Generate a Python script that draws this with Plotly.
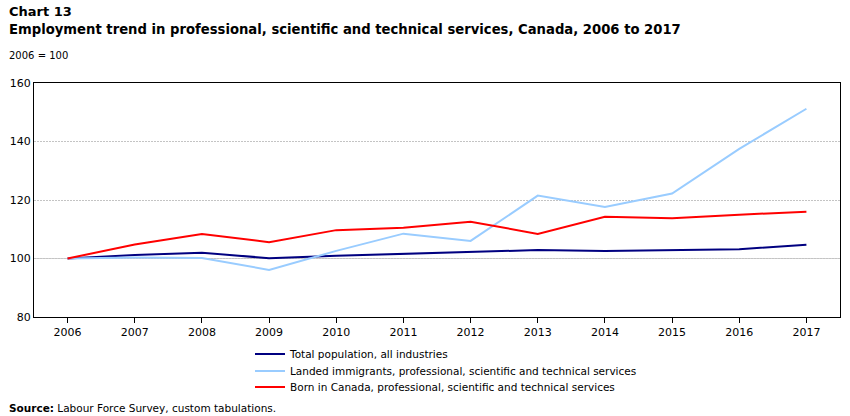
import plotly.graph_objects as go

years = [2006, 2007, 2008, 2009, 2010, 2011, 2012, 2013, 2014, 2015, 2016, 2017]
total_pop = [100.0, 101.2, 102.0, 100.1, 100.9, 101.5, 102.2, 102.9, 102.6, 102.9, 103.2, 104.7]
immigrants = [100.0, 100.3, 100.2, 96.1, 102.6, 108.5, 106.0, 121.5, 117.6, 122.2, 137.5, 151.2]
born_canada = [100.0, 104.8, 108.4, 105.6, 109.7, 110.5, 112.6, 108.4, 114.3, 113.8, 115.0, 116.0]
base_index = 100

names = [
    "Total population, all industries",
    "Landed immigrants, professional, scientific and technical services",
    "Born in Canada, professional, scientific and technical services",
]
colors = ["#000080", "#99CCFF", "#FF0000"]
series = [total_pop, immigrants, born_canada]

FONT = "DejaVu Sans"
W, H = 850, 416
L, R, T, B = 34, 10, 83, 99

legend_ids = ["legend", "legend2", "legend3"]
legend_y = [354, 371, 387]

fig = go.Figure()
for n, c, s, lg in zip(names, colors, series, legend_ids):
    fig.add_trace(go.Scatter(x=years, y=s, name=n, mode="lines", legend=lg,
                             line=dict(color=c, width=2), hoverinfo="x+y+name"))

def legend_cfg(ycenter):
    return dict(xref="container", yref="container", x=250 / W, y=1 - ycenter / H,
                xanchor="left", yanchor="middle",
                font=dict(family=FONT, size=10.5, color="black"),
                bgcolor="rgba(0,0,0,0)")

fig.update_layout(
    width=W, height=H,
    margin=dict(l=L, r=R, t=T, b=B, autoexpand=False),
    paper_bgcolor="white", plot_bgcolor="white",
    font=dict(family=FONT, size=11, color="black"),
    showlegend=True,
    legend=legend_cfg(legend_y[0]),
    legend2=legend_cfg(legend_y[1]),
    legend3=legend_cfg(legend_y[2]),
    xaxis=dict(range=[2005.5, 2017.5], tickmode="array", tickvals=years,
               ticktext=[str(y) for y in years], showgrid=False,
               showline=True, linecolor="black", linewidth=1, mirror=True,
               ticks="outside", ticklen=5, tickcolor="black",
               tickfont=dict(family=FONT, size=11), zeroline=False,
               automargin=False),
    yaxis=dict(range=[80, 160], tickvals=[80, 100, 120, 140, 160],
               showgrid=True, gridcolor="#c4c4c4", griddash="2px,1px", gridwidth=1,
               showline=True, linecolor="black", linewidth=1, mirror=True,
               ticks="", tickfont=dict(family=FONT, size=11), zeroline=False,
               automargin=False),
)

fig.add_hline(y=base_index, line=dict(color="#d0d0d0", width=1), layer="below")

def ann(text, x, y, size):
    fig.add_annotation(xref="paper", yref="paper", x=(x - L) / (W - L - R),
                       y=(H - B - y) / (H - T - B), xanchor="left", yanchor="middle",
                       showarrow=False, text=text,
                       font=dict(family=FONT, size=size, color="black"))

ann("<b>Chart 13</b>", 7, 12, 13)
ann("<b>Employment trend in professional, scientific and technical services, Canada, 2006 to 2017</b>", 7, 30, 13.2)
ann("2006 = 100", 7, 55, 10)
ann("<b>Source:</b> Labour Force Survey, custom tabulations.", 7, 408, 10.5)

fig.write_html("out.html", config={"displayModeBar": False},
               post_script="document.body.style.margin='0';")
